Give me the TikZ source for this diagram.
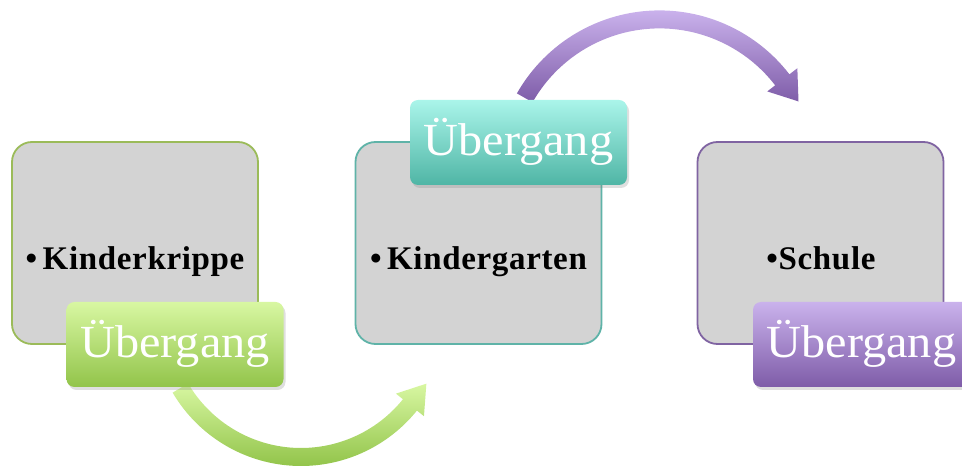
\documentclass[tikz,border=0pt]{standalone}
\usepackage{fontspec}
\setmainfont{Liberation Serif}
\newfontfamily\transfont[FakeStretch=1.05]{Liberation Serif}
\usetikzlibrary{calc,shadows}
\definecolor{boxgray}{HTML}{D3D3D3}
\definecolor{grnline}{HTML}{9BBB59}
\definecolor{tealline}{HTML}{5FB3A8}
\definecolor{purline}{HTML}{8064A2}
\definecolor{grntop}{HTML}{D8F7A2}
\definecolor{grnbot}{HTML}{92C44A}
\definecolor{tealtop}{HTML}{AAF5EA}
\definecolor{tealbot}{HTML}{4FB5A5}
\definecolor{purtop}{HTML}{CAB2EC}
\definecolor{purbot}{HTML}{7E5CA8}
\tikzset{
  stagebox/.style={draw, line width=1.8pt, fill=boxgray, rounded corners=20pt,
    minimum width=246pt, minimum height=202pt, inner sep=0pt},
  stagetext/.style={anchor=base, inner sep=0pt, font=\bfseries\fontsize{33}{33}\selectfont\addfontfeature{LetterSpace=2}},
  transbox/.style={rounded corners=8pt, minimum width=217pt, minimum height=85pt, inner sep=0pt,
    drop shadow={shadow xshift=2pt, shadow yshift=-3pt, opacity=0.25}},
  transtext/.style={anchor=base, inner sep=0pt, text=white, font=\transfont\fontsize{46}{46}\selectfont},
}
\begin{document}
\begin{tikzpicture}[x=1pt,y=1pt]
\useasboundingbox (0,0) rectangle (962,466);
% stage boxes
\node[stagebox, draw=grnline] (b1) at (135,223) {};
\node[stagebox, draw=tealline] (b2) at (478.5,223) {};
\node[stagebox, draw=purline] (b3) at (820.5,223) {};
\node[stagetext] (t1) at (135,196) {•\,Kinderkrippe};
\node[stagetext] (t2) at (478.5,196) {•\,Kindergarten};
\node[stagetext] (t3) at (821,196) {•Schule};
% arrows
\coordinate (c1) at (301,149);
\coordinate (c2) at (659.5,291.6);
\shade[top color=grntop, bottom color=grnbot]
  ($(c1)+(210.5:149pt)$) arc[start angle=210.5, end angle=321.1, radius=149pt]
  -- ($(c1)+(321.1:158pt)$) -- ($(c1)+(332:142pt)$) -- ($(c1)+(321.1:122pt)$)
  -- ($(c1)+(321.1:131pt)$) arc[start angle=321.1, end angle=210.5, radius=131pt] -- cycle;
\shade[top color=purtop, bottom color=purbot]
  ($(c2)+(150.4:164pt)$) arc[start angle=150.4, end angle=37.6, radius=164pt]
  -- ($(c2)+(37.6:174pt)$) -- ($(c2)+(27.7:157pt)$) -- ($(c2)+(37.6:136pt)$)
  -- ($(c2)+(37.6:146pt)$) arc[start angle=37.6, end angle=150.4, radius=146pt] -- cycle;
% transition boxes
\node[transbox, top color=grntop, bottom color=grnbot] (u1) at (175,121.5) {};
\node[transbox, top color=tealtop, bottom color=tealbot] (u2) at (518.5,323.5) {};
\node[transbox, top color=purtop, bottom color=purbot] (u3) at (861.5,121.5) {};
\node[transtext] (ut1) at (175,108) {Übergang};
\node[transtext] (ut2) at (518.5,310) {Übergang};
\node[transtext] (ut3) at (861.5,108) {Übergang};
\end{tikzpicture}
\end{document}
